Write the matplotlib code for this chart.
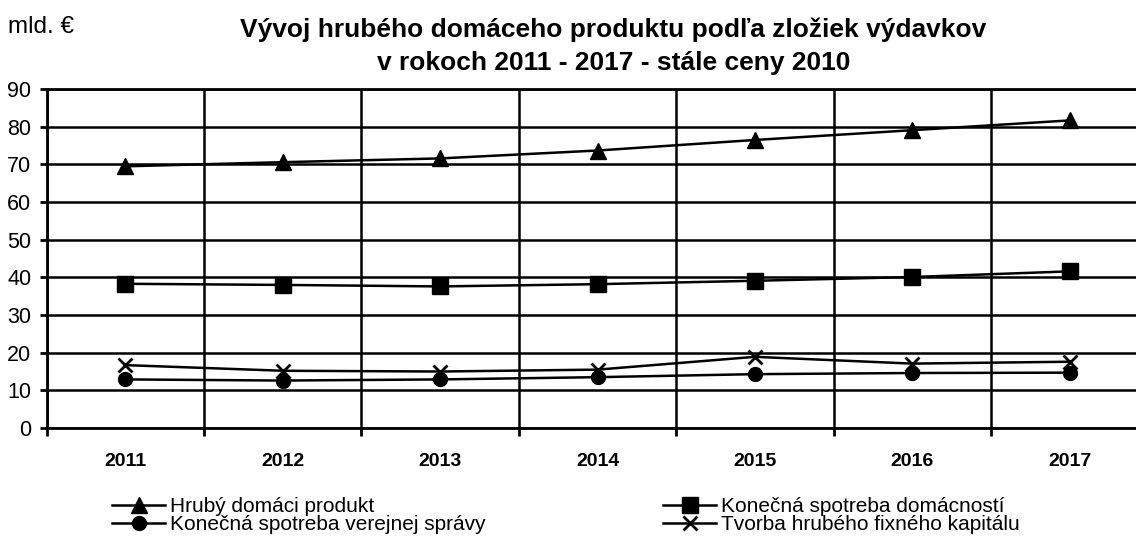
import numpy as np
import matplotlib
matplotlib.use("Agg")
import matplotlib.pyplot as plt

plt.rcParams['font.family'] = ['Liberation Sans', 'DejaVu Sans']

years = ["2011", "2012", "2013", "2014", "2015", "2016", "2017"]
hdp = [69.5, 70.6, 71.6, 73.7, 76.5, 79.1, 81.7]
domacnosti = [38.3, 38.0, 37.6, 38.2, 39.1, 40.1, 41.6]
verejna_sprava = [12.9, 12.6, 12.9, 13.5, 14.3, 14.6, 14.7]
fixny_kapital = [16.7, 15.2, 15.0, 15.5, 18.9, 17.1, 17.6]

labels = ["Hrubý domáci produkt", "Konečná spotreba domácností",
          "Konečná spotreba verejnej správy", "Tvorba hrubého fixného kapitálu"]

fig = plt.figure(figsize=(11.36, 5.37), dpi=100)
ax = fig.add_axes([0.041, 0.203, 0.97, 0.631])

x = np.arange(len(years)) + 0.5
lw = 1.8
l_hdp, = ax.plot(x, hdp, color="black", lw=lw, marker="^", markersize=11,
                 markerfacecolor="black", markeredgecolor="black", zorder=5)
l_dom, = ax.plot(x, domacnosti, color="black", lw=lw, marker="s", markersize=11,
                 markerfacecolor="black", markeredgecolor="black", zorder=5)
l_ver, = ax.plot(x, verejna_sprava, color="black", lw=lw, marker="o", markersize=10,
                 markerfacecolor="black", markeredgecolor="black", zorder=5)
l_fix, = ax.plot(x, fixny_kapital, color="black", lw=lw, marker="x", markersize=10,
                 markeredgewidth=2, markeredgecolor="black", zorder=6)

ax.set_xlim(0, len(years))
ax.set_ylim(0, 90)
ax.set_yticks(np.arange(0, 91, 10))
ax.set_xticks(np.arange(0, len(years) + 1))
ax.set_xticklabels([])
ax.set_xticks(x, minor=True)
ax.set_xticklabels(years, minor=True, fontsize=14, fontweight="bold")
ax.tick_params(axis="x", which="major", length=6, width=2, direction="out")
ax.tick_params(axis="x", which="minor", length=0, pad=18)
ax.tick_params(axis="y", length=5, width=2, labelsize=15.5, pad=6)
ax.grid(True, which="major", color="black", lw=1.8)
ax.set_axisbelow(True)
ax.spines["right"].set_visible(False)
for s in ["left", "bottom", "top"]:
    ax.spines[s].set_linewidth(2)

fig.text(0.007, 0.95, "mld. €", fontsize=17.5, ha="left", va="center")
fig.text(0.54, 0.945, "Vývoj hrubého domáceho produktu podľa zložiek výdavkov",
         fontsize=19, fontweight="bold", ha="center", va="center")
fig.text(0.54, 0.883, "v rokoch 2011 - 2017 - stále ceny 2010",
         fontsize=19, fontweight="bold", ha="center", va="center")

fig.legend([l_hdp, l_ver, l_dom, l_fix],
           [labels[0], labels[2], labels[1], labels[3]],
           ncol=2, loc="upper left", bbox_to_anchor=(0.0986, 0.074),
           frameon=False, fontsize=15, handlelength=2.55,
           handletextpad=0.25, labelspacing=-0.05, columnspacing=8.5,
           borderpad=0, borderaxespad=0)

fig.savefig("out.png", dpi=100)
